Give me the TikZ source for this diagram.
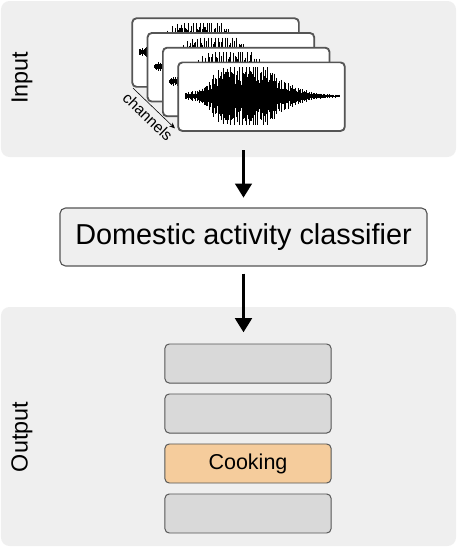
\documentclass[tikz,border=0pt]{standalone}
\usepackage{fontspec}
\setmainfont{Liberation Sans}
\usetikzlibrary{positioning,fit,arrows.meta}
\definecolor{panelgray}{HTML}{EFEFEF}
\definecolor{boxgray}{HTML}{D9D9D9}
\definecolor{edgegray}{HTML}{555555}
\definecolor{cookorange}{HTML}{F5CC9C}

\tikzset{
	panel/.style={fill=panelgray,rounded corners=6pt,inner sep=0pt},
	card/.style={draw=edgegray,fill=white,line width=0.8pt,rounded corners=3pt,
		minimum width=4.15cm,minimum height=1.7cm,inner sep=0pt,anchor=north west},
	outbox/.style={draw=edgegray,fill=boxgray,line width=0.7pt,rounded corners=3pt,
		minimum width=4.15cm,minimum height=0.975cm,inner sep=0pt},
	flow/.style={-{Triangle[length=10pt,width=12pt]},line width=1.5pt}
}

\begin{document}
\begin{tikzpicture}[x=0.025cm,y=-0.025cm]
	\useasboundingbox(0,0)rectangle(457,547);
	% panels
	\node[panel,fit={(1,1)(456,157)}](inp){};
	\node[panel,fit={(1,307)(456,546)}](outp){};
	\node[rotate=90,font=\fontsize{16.6}{20}\selectfont](inlab)at(22,78){Input};
	\node[rotate=90,font=\fontsize{16.6}{20}\selectfont](outlab)at(22,437){Output};
	% input channels, one card each
	\foreach \k in {0,...,3}{
		\node[card](card\k)at({132+15.3*\k},{18+14.7*\k}){};
		\begin{scope}
			\clip[rounded corners=3pt](card\k.south west)rectangle(card\k.north east);
			\begin{scope}[shift={({132+15.3*\k},{18+14.7*\k})}]
				\draw[line width=0.3pt](7,34)--(162,34);
				\draw[line width=0.55pt]
					\foreach \i [evaluate=\i as \u using 7+0.6*\i,
					evaluate=\i as \a using {min(29,(30/(1+abs((7+0.6*\i-66)/33)^6)+8/(1+abs((7+0.6*\i-112)/18)^2)+3*(1-(7+0.6*\i)/175))*(0.35+0.65*abs(sin(mod(\i,47)*77.7)*sin(mod(\i,31)*131.3+20))))}]
					in {0,...,258}{(\u,34-\a)--(\u,34+\a)};
			\end{scope}
		\end{scope}
		\draw[edgegray,line width=0.8pt,rounded corners=3pt](card\k.south west)rectangle(card\k.north east);
	}
	\draw[-{Stealth[length=4pt,width=3.5pt]},line width=0.4pt,shorten <=1pt,shorten >=3pt]
		(card0.south west)--(card3.south west)
		node[midway,sloped,below,inner sep=3pt,font=\fontsize{11}{13}\selectfont](chlab){channels};
	% classifier
	\node[draw=edgegray,fill=panelgray,line width=0.8pt,rounded corners=4pt,
		minimum width=9.175cm,minimum height=1.45cm,font=\fontsize{20.5}{24}\selectfont]
		(cls)at(243.5,237){Domestic activity classifier};
	% output classes
	\node[outbox](b1)at(248,363.5){};
	\node[outbox,below=0.25cm of b1](b2){};
	\node[outbox,fill=cookorange,below=0.25cm of b2,font=\fontsize{15.3}{18}\selectfont](b3){Cooking};
	\node[outbox,below=0.25cm of b3](b4){};
	% flow
	\draw[flow,shorten <=-5pt,shorten >=7pt](cls.north|-inp.south)--(cls.north);
	\draw[flow,shorten <=5pt,shorten >=8pt](cls.south)--(cls.south|-b1.north);
\end{tikzpicture}
\end{document}
